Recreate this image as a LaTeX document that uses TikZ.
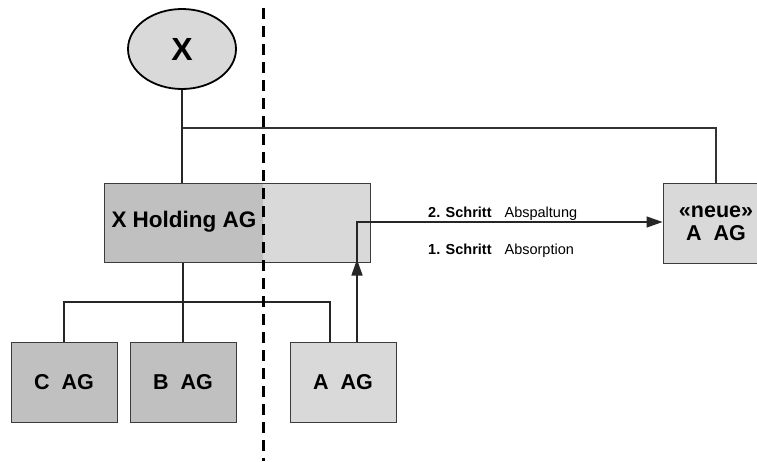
\documentclass[tikz,border=0pt]{standalone}
\usepackage{fontspec}
\setmainfont{Liberation Sans}
\usetikzlibrary{arrows.meta,shapes.geometric}
\definecolor{boxdark}{RGB}{192,192,192}
\definecolor{boxlight}{RGB}{217,217,217}
\definecolor{edge}{RGB}{60,60,60}
\tikzset{
  company/.style={draw=edge, line width=1pt, minimum width=106pt, minimum height=80pt,
    inner sep=0pt, font=\bfseries\fontsize{21.5}{23}\selectfont, align=center},
  heavy/.style={line width=2.6pt, draw=black!85},
  light/.style={line width=1.2pt, draw=black!80},
  flow/.style={line width=1.4pt, draw=black!85, -{Triangle[length=16pt,width=11pt]}},
  steptxt/.style={anchor=base west, inner sep=0pt, font=\fontsize{14.5}{16}\selectfont}
}
\begin{document}
\begin{tikzpicture}[x=1pt,y=-1pt]
  \clip (0,0) rectangle (757,461);
  \fill[white] (0,0) rectangle (757,461);

  % shareholder
  \node[draw=black, line width=1.8pt, fill=boxlight, ellipse, minimum width=108pt,
        minimum height=80pt, inner sep=0pt, font=\bfseries\fontsize{32}{34}\selectfont]
        (x) at (182,49) {X};

  % holding: dark left part, light right part
  \node[company, minimum width=266pt, minimum height=79pt, fill=boxlight,
        path picture={\fill[boxdark] (path picture bounding box.north west)
          rectangle ([xshift=159pt]path picture bounding box.south west);}]
        (hold) at (237,222.5) {};
  \node[font=\bfseries\fontsize{22.5}{24}\selectfont, inner sep=0pt] (holdtxt) at (184,222) {X Holding AG};

  % subsidiaries
  \node[company, fill=boxdark]  (c) at (64,382) {C\ \ AG};
  \node[company, fill=boxdark]  (b) at (183,382) {B\ \ AG};
  \node[company, fill=boxlight] (a) at (343,382) {A\ \ AG};
  \node[company, fill=boxlight] (neue) at (716,223) {«neue»\\A\ \ AG};

  % junctions
  \coordinate (tj) at (183,128);
  \coordinate (bj) at (183,302);
  \coordinate (sj) at (357,222);

  % ownership lines
  \draw[heavy] (x.south) -- (x.south |- hold.north);
  \draw[light] (tj) -- (tj -| neue.north) -- (neue.north);
  \draw[heavy] (bj |- hold.south) -- (bj);
  \draw[heavy] (c.north) -- (c.north |- bj) -- ([xshift=-13pt]a.north |- bj) -- ([xshift=-13pt]a.north);
  \draw[heavy] (bj) -- (b.north);

  % transaction steps
  \draw[flow, shorten >=-3pt] ([xshift=14pt]a.north) -- ([xshift=14pt]a.north |- hold.south);
  \draw[flow] (sj |- hold.south) -- (sj) -- (sj -| neue.west);

  \node[steptxt] (s2) at (428,217) {\textbf{2. Schritt}\hspace{13pt}Abspaltung};
  \node[steptxt] (s1) at (428,254) {\textbf{1. Schritt}\hspace{13pt}Absorption};

  % separation line
  \draw[line width=3pt, dash pattern=on 11pt off 7pt] (263,8) -- (263,461);
\end{tikzpicture}
\end{document}
